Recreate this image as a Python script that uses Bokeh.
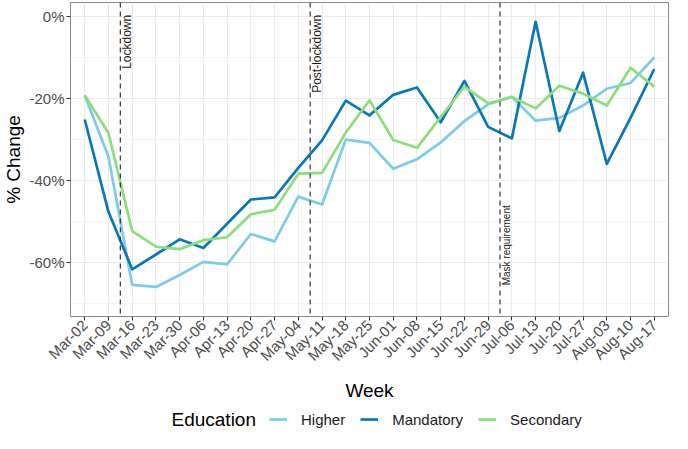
import math
from bokeh.plotting import figure
from bokeh.layouts import column
from bokeh.models import Range1d, FixedTicker, Span, Label, Legend, LegendItem
from bokeh.embed import file_html
from bokeh.resources import INLINE

weeks = ["Mar-02", "Mar-09", "Mar-16", "Mar-23", "Mar-30", "Apr-06", "Apr-13",
         "Apr-20", "Apr-27", "May-04", "May-11", "May-18", "May-25", "Jun-01",
         "Jun-08", "Jun-15", "Jun-22", "Jun-29", "Jul-06", "Jul-13", "Jul-20",
         "Jul-27", "Aug-03", "Aug-10", "Aug-17"]

higher = [-19.3, -34.3, -65.5, -66.0, -63.1, -59.9, -60.5, -53.1, -54.9, -44.0,
          -45.9, -30.1, -30.9, -37.2, -34.9, -30.8, -25.6, -21.5, -19.7, -25.5,
          -24.8, -21.8, -17.7, -16.3, -10.1]
mandatory = [-25.2, -47.7, -61.7, -58.1, -54.4, -56.5, -50.6, -44.7, -44.2, -37.0,
             -30.3, -20.6, -24.2, -19.2, -17.4, -25.9, -15.8, -27.0, -29.8, -1.4,
             -28.0, -13.8, -36.0, -24.8, -12.9]
secondary = [-19.3, -28.5, -52.4, -56.2, -56.8, -54.6, -53.9, -48.3, -47.2, -38.4,
             -38.2, -28.4, -20.5, -30.2, -32.1, -24.6, -17.2, -21.3, -19.7, -22.5,
             -17.0, -18.9, -21.8, -12.6, -17.2]

series_names = ["Higher", "Mandatory", "Secondary"]
series_colors = ["#7FCBE6", "#0A78B8", "#8EDD7C"]
legend_title = "Education"

# events drawn between the week listed and the following week
event_after = ["Mar-09", "May-04", "Jun-29"]
event_labels = ["Lockdown", "Post-lockdown", "Mask requirement"]

yticks = [-60, -40, -20, 0]
ylabels = ["-60%", "-40%", "-20%", "0%"]
yminor = [-70, -50, -30, -10]

FONT = "Liberation Sans"

x = list(range(len(weeks)))

p = figure(width=672, height=403, output_backend="svg", toolbar_location=None,
           x_range=Range1d(-0.6, len(weeks) - 1 + 0.6),
           y_range=Range1d(-73.2, 3.3),
           min_border_left=60, min_border_right=4, min_border_top=2,
           min_border_bottom=80)
p.background_fill_color = "white"
p.border_fill_color = "white"
p.outline_line_color = "#8A8A8A"
p.outline_line_width = 1

for name, vals, col in zip(series_names, [higher, mandatory, secondary], series_colors):
    p.line(x, vals, line_color=col, line_width=2.7, line_join="round")

# event lines + labels
for ev, lab in zip(event_after, event_labels):
    pos = weeks.index(ev) + 0.5
    p.add_layout(Span(location=pos, dimension="height", line_color="#333333",
                      line_width=1.2, line_dash="5 4"))
    if lab == "Mask requirement":
        p.add_layout(Label(x=pos, y=min(higher) + 0.4, text=lab, angle=math.pi / 2,
                           text_align="left", text_baseline="middle", x_offset=6,
                           text_font=FONT, text_font_size="10px", text_color="#1A1A1A"))
    else:
        p.add_layout(Label(x=pos, y=0.3, text=lab, angle=math.pi / 2,
                           text_align="right", text_baseline="middle", x_offset=7,
                           text_font=FONT, text_font_size="12px", text_color="#1A1A1A"))

# axes
xt = FixedTicker(ticks=x)
p.xaxis.ticker = xt
p.xgrid.ticker = xt
p.xaxis.major_label_overrides = {i: w for i, w in enumerate(weeks)}
p.xaxis.major_label_orientation = math.pi / 4
yt = FixedTicker(ticks=yticks, minor_ticks=yminor)
p.yaxis.ticker = yt
p.ygrid.ticker = yt
p.yaxis.major_label_overrides = {t: l for t, l in zip(yticks, ylabels)}

for ax in (p.xaxis, p.yaxis):
    ax.axis_line_color = None
    ax.major_tick_line_color = "#333333"
    ax.major_tick_out = 4
    ax.major_tick_in = 0
    ax.minor_tick_line_color = None
    ax.major_label_text_font = FONT
    ax.major_label_text_font_size = "15px"
    ax.major_label_text_color = "#4D4D4D"
    ax.major_label_standoff = 2
    ax.axis_label_text_font = FONT
    ax.axis_label_text_font_size = "19px"
    ax.axis_label_text_font_style = "normal"
    ax.axis_label_text_color = "black"

p.xaxis.axis_label = "Week"
p.yaxis.axis_label = "% Change"
p.xaxis.axis_label_standoff = 7
p.yaxis.axis_label_standoff = 2

p.xgrid.grid_line_color = "#EBEBEB"
p.xgrid.grid_line_width = 1.1
p.ygrid.grid_line_color = "#EBEBEB"
p.ygrid.grid_line_width = 1.1
p.ygrid.minor_grid_line_color = "#EFEFEF"
p.ygrid.minor_grid_line_width = 0.6

# ---- legend strip (separate figure below the chart; frame aligned with chart) ----
lg = figure(width=672, height=30, output_backend="svg", toolbar_location=None,
            x_range=Range1d(0, 1), y_range=Range1d(0, 1),
            x_axis_location=None, y_axis_location=None,
            min_border_left=0, min_border_right=0, min_border_top=0, min_border_bottom=0)
lg.outline_line_color = None
lg.xgrid.visible = False
lg.ygrid.visible = False
lg.background_fill_color = "white"
lg.border_fill_color = "white"

nan = float("nan")
key_renderers = [lg.line(x=[nan], y=[nan], line_color=c, line_width=2.7) for c in series_colors]
legend = Legend(items=[LegendItem(label=n, renderers=[r]) for n, r in zip(series_names, key_renderers)],
                location=(199, 4), orientation="horizontal",
                glyph_width=18, glyph_height=20, label_height=20,
                label_standoff=14, spacing=15,
                padding=0, margin=0, border_line_color=None,
                background_fill_alpha=0,
                label_text_font=FONT, label_text_font_size="15px",
                label_text_color="#1A1A1A")
lg.add_layout(legend)
lg.add_layout(Label(x=101, y=14, x_units="screen", y_units="screen", text=legend_title,
                    text_align="left", text_baseline="middle",
                    text_font=FONT, text_font_size="19px", text_color="black"))

layout = column(p, lg, spacing=0)
open("out.html", "w").write(file_html(layout, INLINE))
